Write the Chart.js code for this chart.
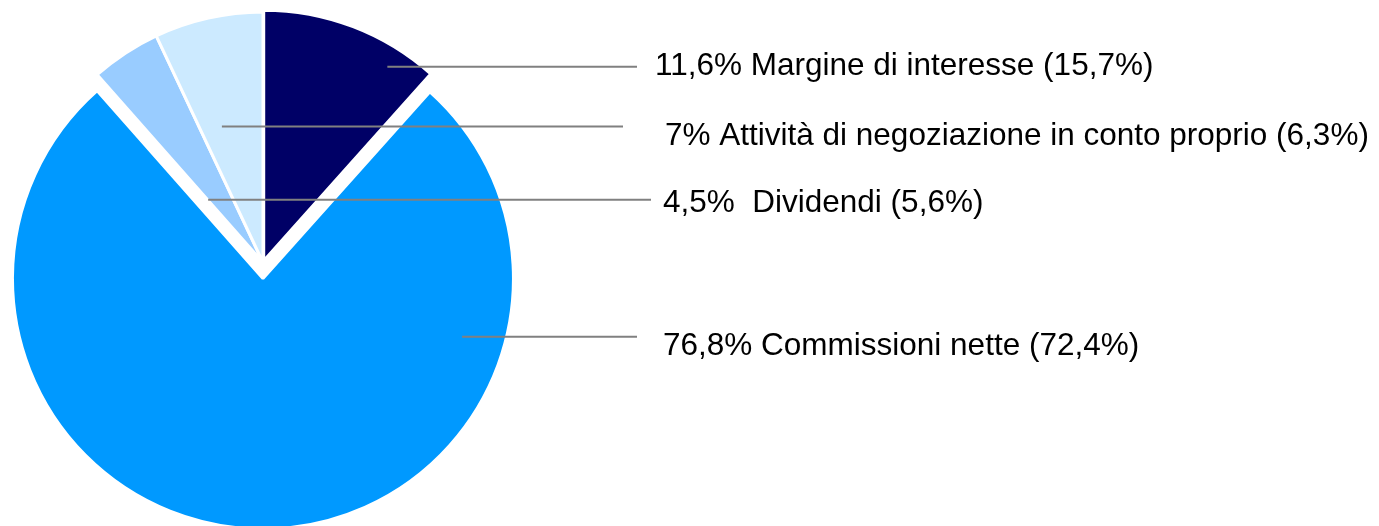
<!DOCTYPE html>
<html>
<head>
<meta charset="utf-8">
<script src="https://cdn.jsdelivr.net/npm/chart.js@4"></script>
<style>
  html, body { margin: 0; padding: 0; background: #ffffff; overflow: hidden; }
  #wrap { width: 1379px; height: 526px; position: relative; }
</style>
</head>
<body>
<div id="wrap"><canvas id="pie"></canvas></div>
<script>
// composizione ricavi: quota attuale e (quota precedente)
const categories = ['Margine di interesse', 'Commissioni nette', ' Dividendi', 'Attività di negoziazione in conto proprio'];
const shares = [11.6, 76.8, 4.5, 7];
const prevShares = [15.7, 72.4, 5.6, 6.3];
const sliceColors = ['#000066', '#0099ff', '#99ccff', '#cceaff'];

// exploded slices, in px along each slice's middle angle
const sliceShift = [2, 16, 0, 0];

// leader line anchors: [fraction along slice angle, fraction of radius, line end x, text x, baseline shift]
const leaderLayout = [
    [0.778, 0.918, 637, 655, 8],
    [0.233, 0.828, 637, 663, 18],
    [0.02, 0.333, 651, 663, 12],
    [0.333, 0.567, 623, 665, 18]
];

const fmt = v => String(v).replace('.', ',');

// chart.js shrinks the offset of big slices, so explode them by hand
const baseArcDraw = Chart.ArcElement.prototype.draw;
Chart.ArcElement.prototype.draw = function (ctx) {
    const i = this.$context ? this.$context.dataIndex : -1;
    const d = sliceShift[i] || 0;
    const mid = (this.startAngle + this.endAngle) / 2;
    ctx.save();
    ctx.translate(Math.cos(mid) * d, Math.sin(mid) * d);
    baseArcDraw.call(this, ctx);
    ctx.restore();
};

const leaderLabels = {
    id: 'leaderLabels',
    afterDatasetsDraw(chart) {
        const ctx = chart.ctx;
        const arcs = chart.getDatasetMeta(0).data;
        ctx.save();
        arcs.forEach((arc, i) => {
            const [t, f, endX, textX, shift] = leaderLayout[i];
            const mid = (arc.startAngle + arc.endAngle) / 2;
            const cx = arc.x + sliceShift[i] * Math.cos(mid);
            const cy = arc.y + sliceShift[i] * Math.sin(mid);
            const a = arc.startAngle + t * (arc.endAngle - arc.startAngle);
            const ax = cx + f * arc.outerRadius * Math.cos(a);
            const ay = cy + f * arc.outerRadius * Math.sin(a);

            ctx.strokeStyle = '#808080';
            ctx.lineWidth = 2;
            ctx.beginPath();
            ctx.moveTo(ax, ay);
            ctx.lineTo(endX, ay);
            ctx.stroke();

            ctx.fillStyle = '#000000';
            ctx.font = '31.5px "Liberation Sans", Arial, sans-serif';
            ctx.textBaseline = 'alphabetic';
            ctx.textAlign = 'left';
            ctx.fillText(fmt(shares[i]) + '% ' + categories[i] + ' (' + fmt(prevShares[i]) + '%)', textX, ay + shift);
        });
        ctx.restore();
    }
};

new Chart(document.getElementById('pie'), {
    type: 'pie',
    data: {
        labels: categories,
        datasets: [{
            data: shares,
            backgroundColor: sliceColors,
            borderColor: '#ffffff',
            borderWidth: 3,
            hoverBorderWidth: 3,
            hoverOffset: 0
        }]
    },
    options: {
        responsive: true,
        maintainAspectRatio: false,
        animation: false,
        events: [],
        layout: { padding: { left: 11, top: 10, bottom: 11, right: 864 } },
        plugins: {
            legend: { display: false },
            tooltip: { enabled: false }
        }
    },
    plugins: [leaderLabels]
});
</script>
</body>
</html>
